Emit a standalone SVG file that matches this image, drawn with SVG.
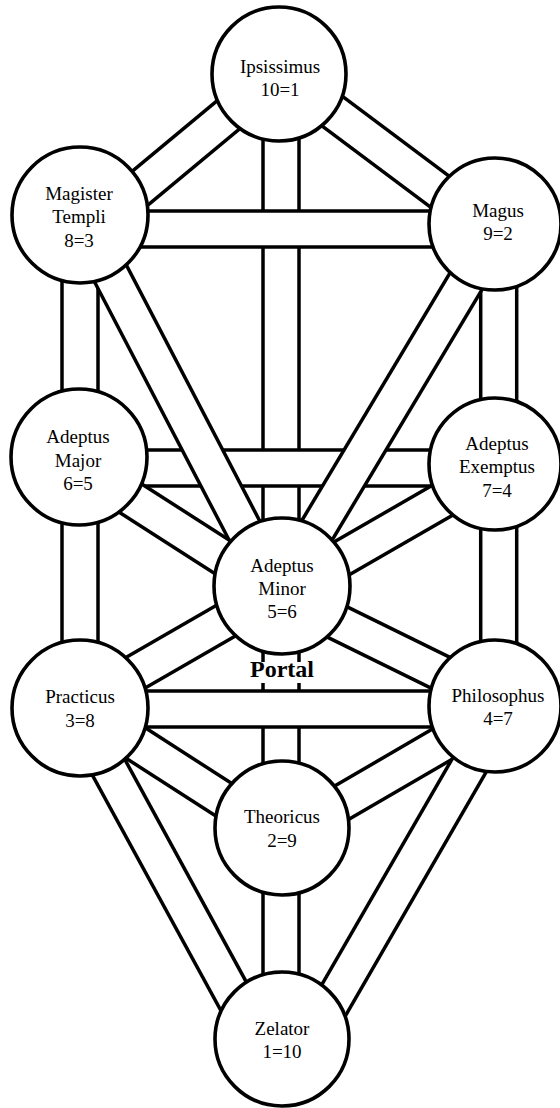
<svg xmlns="http://www.w3.org/2000/svg" width="560" height="1108" viewBox="0 0 560 1108">
<style>
.o{stroke:#000;stroke-width:39.5;stroke-linecap:butt;fill:none}
.i{stroke:#fff;stroke-width:32.5;stroke-linecap:butt;fill:none}
.n circle{fill:#fff;stroke:#000;stroke-width:3.6}
.n text{font-family:"Liberation Serif","Times New Roman",serif;font-size:19px;fill:#000;text-anchor:middle}
.portal{font-family:"Liberation Serif","Times New Roman",serif;font-size:24px;font-weight:bold;fill:#000;text-anchor:middle}
</style>
<rect width="560" height="1108" fill="#fff"/>
<g id="connectors">
  <!-- verticals (lowest layer) -->
  <g id="c-ips-minor"><line class="o" x1="281" y1="110" x2="281" y2="560"/><line class="i" x1="281" y1="110" x2="281" y2="560"/></g>
  <g id="c-minor-theoricus"><line class="o" x1="281" y1="620" x2="281" y2="800"/><line class="i" x1="281" y1="620" x2="281" y2="800"/></g>
  <g id="c-theoricus-zelator"><line class="o" x1="281" y1="860" x2="281" y2="1005"/><line class="i" x1="281" y1="860" x2="281" y2="1005"/></g>
  <g id="c-magister-major"><line class="o" x1="80" y1="250" x2="80" y2="425"/><line class="i" x1="80" y1="250" x2="80" y2="425"/></g>
  <g id="c-major-practicus"><line class="o" x1="80" y1="490" x2="80" y2="675"/><line class="i" x1="80" y1="490" x2="80" y2="675"/></g>
  <g id="c-magus-exemptus"><line class="o" x1="498.7" y1="258" x2="498.7" y2="432"/><line class="i" x1="498.7" y1="258" x2="498.7" y2="432"/></g>
  <g id="c-exemptus-philosophus"><line class="o" x1="498.7" y1="495" x2="498.7" y2="675"/><line class="i" x1="498.7" y1="495" x2="498.7" y2="675"/></g>
  <!-- horizontals -->
  <g id="c-magister-magus"><line class="o" x1="125" y1="229" x2="465" y2="229"/><line class="i" x1="125" y1="229" x2="465" y2="229"/></g>
  <g id="c-major-exemptus"><line class="o" x1="120" y1="468" x2="460" y2="468"/><line class="i" x1="120" y1="468" x2="460" y2="468"/></g>
  <!-- Portal label background over the middle path -->
  <rect x="246" y="662" width="71" height="21" fill="#fff"/>
  <g id="c-practicus-philosophus"><line class="o" x1="120" y1="709" x2="460" y2="709"/><line class="i" x1="120" y1="709" x2="460" y2="709"/></g>
  <!-- diagonals (top layer) -->
  <g id="c-ips-magister"><line class="o" x1="109" y1="214" x2="251" y2="96"/><line class="i" x1="109" y1="214" x2="251" y2="96"/></g>
  <g id="c-ips-magus"><line class="o" x1="312" y1="96" x2="463" y2="209"/><line class="i" x1="312" y1="96" x2="463" y2="209"/></g>
  <g id="c-magister-minor"><line class="o" x1="97.8" y1="249.2" x2="255.7" y2="552.2"/><line class="i" x1="97.8" y1="249.2" x2="255.7" y2="552.2"/></g>
  <g id="c-magus-minor"><line class="o" x1="479.4" y1="258.8" x2="303.7" y2="552.5"/><line class="i" x1="479.4" y1="258.8" x2="303.7" y2="552.5"/></g>
  <g id="c-major-minor"><line class="o" x1="109" y1="484.3" x2="242.7" y2="570.2"/><line class="i" x1="109" y1="484.3" x2="242.7" y2="570.2"/></g>
  <g id="c-exemptus-minor"><line class="o" x1="320" y1="570.8" x2="461.7" y2="489.2"/><line class="i" x1="320" y1="570.8" x2="461.7" y2="489.2"/></g>
  <g id="c-practicus-minor"><line class="o" x1="115.8" y1="684.2" x2="245.9" y2="609.2"/><line class="i" x1="115.8" y1="684.2" x2="245.9" y2="609.2"/></g>
  <g id="c-philosophus-minor"><line class="o" x1="315.9" y1="611.5" x2="462.4" y2="683.5"/><line class="i" x1="315.9" y1="611.5" x2="462.4" y2="683.5"/></g>
  <g id="c-practicus-theoricus"><line class="o" x1="116.5" y1="730.7" x2="242.7" y2="811.9"/><line class="i" x1="116.5" y1="730.7" x2="242.7" y2="811.9"/></g>
  <g id="c-practicus-zelator"><line class="o" x1="97.2" y1="746.4" x2="245.4" y2="1017.9"/><line class="i" x1="97.2" y1="746.4" x2="245.4" y2="1017.9"/></g>
  <g id="c-philosophus-theoricus"><line class="o" x1="321.8" y1="814.3" x2="462.5" y2="732.4"/><line class="i" x1="321.8" y1="814.3" x2="462.5" y2="732.4"/></g>
  <g id="c-philosophus-zelator"><line class="o" x1="321.7" y1="1020.9" x2="480" y2="746.7"/><line class="i" x1="321.7" y1="1020.9" x2="480" y2="746.7"/></g>
</g>
<text class="portal" x="282" y="677">Portal</text>
<g id="ipsissimus" class="n"><circle cx="279" cy="74" r="67"/><text x="280" y="73">Ipsissimus</text><text x="280" y="96">10=1</text></g>
<g id="magister-templi" class="n"><circle cx="80" cy="215" r="68"/><text x="79" y="200">Magister</text><text x="79" y="223">Templi</text><text x="79" y="247">8=3</text></g>
<g id="magus" class="n"><circle cx="495" cy="224" r="66"/><text x="498" y="217">Magus</text><text x="498" y="240">9=2</text></g>
<g id="adeptus-major" class="n"><circle cx="79" cy="457" r="68"/><text x="78" y="443">Adeptus</text><text x="78" y="467">Major</text><text x="78" y="490">6=5</text></g>
<g id="adeptus-exemptus" class="n"><circle cx="495" cy="464" r="66"/><text x="497" y="450">Adeptus</text><text x="497" y="473">Exemptus</text><text x="497" y="497">7=4</text></g>
<g id="adeptus-minor" class="n"><circle cx="282" cy="586" r="68"/><text x="282" y="572">Adeptus</text><text x="282" y="595">Minor</text><text x="282" y="618">5=6</text></g>
<g id="practicus" class="n"><circle cx="80" cy="708" r="68"/><text x="80" y="703">Practicus</text><text x="80" y="727">3=8</text></g>
<g id="philosophus" class="n"><circle cx="495" cy="706" r="66"/><text x="498" y="702">Philosophus</text><text x="498" y="725">4=7</text></g>
<g id="theoricus" class="n"><circle cx="282" cy="828" r="67"/><text x="282" y="823">Theoricus</text><text x="282" y="847">2=9</text></g>
<g id="zelator" class="n"><circle cx="282" cy="1039" r="67"/><text x="282" y="1035">Zelator</text><text x="282" y="1058">1=10</text></g>
</svg>
